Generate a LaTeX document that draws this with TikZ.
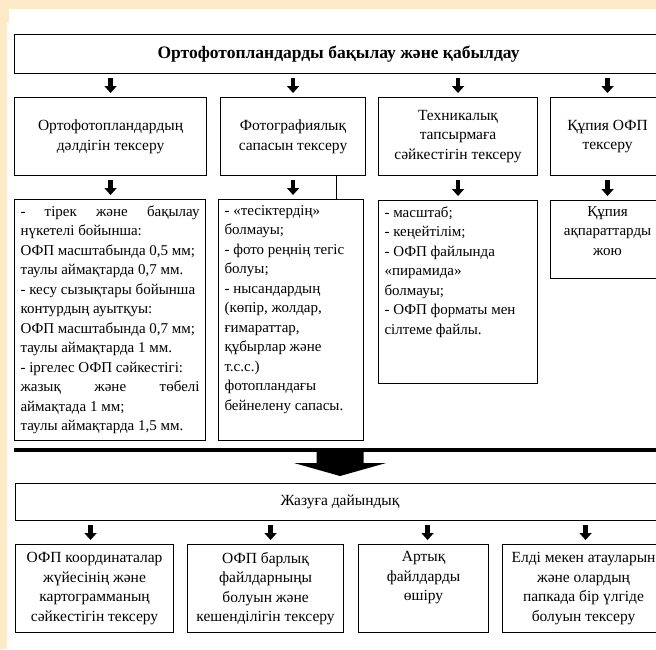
\documentclass[tikz,border=0pt]{standalone}
\usepackage{fontspec}
\setmainfont{Liberation Serif}
\usetikzlibrary{arrows.meta,calc}
\definecolor{paper}{RGB}{253,235,200}
\newcommand{\toptext}[3]{\parbox[t][#1][t]{#2}{#3}}
\newcommand{\spreadline}[1]{\makebox[\linewidth][s]{#1}}
\tikzset{
  box/.style={draw, line width=1.1pt, anchor=north west, inner sep=0pt, align=center,
    font=\fontsize{15.5}{19.5}\selectfont},
  detail/.style={box, inner xsep=6pt, inner ysep=6pt, align=left,
    font=\fontsize{15}{19.5}\selectfont},
  pointer/.style={line width=4.5pt, -{Triangle[width=12pt,length=7pt]}, shorten <=4pt, shorten >=4pt},
}

\begin{document}
\begin{tikzpicture}[x=1pt,y=-1pt]
    % Page and background
    \useasboundingbox (0,0) rectangle (656,649);
    \clip (0,0) rectangle (656,649);
    \fill[paper] (0,0) rectangle (656,649);
    \fill[white] (9,9) rectangle (656,649);
    \fill[white] (7,23) rectangle (9,649);

    % Title
    \node[box, minimum width=648pt, minimum height=39pt, font=\fontsize{17.5}{20}\selectfont\bfseries] (head) at (14,34) {Ортофотопландарды бақылау және қабылдау};

    % Checks
    \node[box, minimum width=192pt, minimum height=78pt] (acc) at (14,97) {Ортофотопландардың\\дәлдігін тексеру};
    \node[box, minimum width=145pt, minimum height=78pt] (photo) at (220,97) {Фотографиялық\\сапасын тексеру};
    \node[box, minimum width=159pt, minimum height=78pt] (tech) at (378,97) {Техникалық\\тапсырмаға\\сәйкестігін тексеру};
    \node[box, minimum width=114pt, minimum height=78pt] (secret) at (550,97) {Құпия ОФП\\тексеру};

    % Details of the checks
    \node[detail] (accd) at (14,199) {\toptext{229pt}{179pt}{%
      \spreadline{- тірек және бақылау}\\
      нүкетелі бойынша:\\
      ОФП масштабында 0,5 мм;\\
      таулы аймақтарда 0,7 мм.\\
      - кесу сызықтары бойынша\\
      контурдың ауытқуы:\\
      ОФП масштабында 0,7 мм;\\
      таулы аймақтарда 1 мм.\\
      - іргелес ОФП сәйкестігі:\\
      \spreadline{жазық және төбелі}\\
      аймақтада 1 мм;\\
      таулы аймақтарда 1,5 мм.}};
    \node[detail] (photod) at (218,199) {\toptext{229pt}{133pt}{%
      - «тесіктердің»\\
      болмауы;\\
      - фото реңнің тегіс\\
      болуы;\\
      - нысандардың\\
      (көпір, жолдар,\\
      ғимараттар,\\
      құбырлар және\\
      т.с.с.)\\
      фотопландағы\\
      бейнелену сапасы.}};
    \node[detail] (techd) at (378,200) {\toptext{171pt}{147pt}{%
      - масштаб;\\
      - кеңейтілім;\\
      - ОФП файлында\\
      «пирамида»\\
      болмауы;\\
      - ОФП форматы мен\\
      сілтеме файлы.}};
    \node[detail] (secretd) at (550,200) {\toptext{66pt}{102pt}{\centering
      Құпия\\
      ақпараттарды\\
      жою}};

    % Arrows between the levels
    \foreach \b in {acc,photo,tech,secret}
      \draw[pointer] (\b.north |- head.south) -- (\b.north);
    \foreach \a/\b in {acc/accd,photo/photod,tech/techd,secret/secretd}
      \draw[pointer] (\a.south) -- (\a.south |- \b.north);
    \draw[line width=0.6pt] ([xshift=-30pt]photo.south east) -- ([xshift=-30pt]photo.south east |- photod.north);

    % Preparation
    \node[box, minimum width=649pt, minimum height=37pt] (prep) at (15,483) {Жазуға дайындық};

    % Divider and the big arrow
    \coordinate (barl) at (14,450);
    \coordinate (barr) at (670,450);
    \draw[line width=3.5pt] (barl) -- (barr);
    \coordinate (tip) at ($(prep.north)+(0,-7)$);
    \fill (tip) -- ++(46,-13) -- ++(-22.5,0) -- ++(0,-11) -- ++(-47,0) -- ++(0,11) -- ++(-22.5,0) -- cycle;

    % Final checks
    \node[box, minimum width=158pt, minimum height=88pt] (coord) at (15,544) {ОФП координаталар\\жүйесінің және\\картограмманың\\сәйкестігін тексеру};
    \node[box, minimum width=156pt, minimum height=88pt] (files) at (187,544) {ОФП барлық\\файлдарныңы\\болуын және\\кешенділігін тексеру};
    \node[box, minimum width=130pt, minimum height=88pt] (extra) at (358,544) {Артық\\файлдарды\\өшіру\\\strut};
    \node[box, minimum width=162pt, minimum height=88pt] (names) at (502,544) {Елді мекен атауларын\\және олардың\\папкада бір үлгіде\\болуын тексеру};

    \draw[pointer] ([xshift=-4pt]coord.north |- prep.south) -- ([xshift=-4pt]coord.north);
    \draw[pointer] ([xshift=5pt]files.north |- prep.south) -- ([xshift=5pt]files.north);
    \draw[pointer] ([xshift=4pt]extra.north |- prep.south) -- ([xshift=4pt]extra.north);
    \draw[pointer] ([xshift=2pt]names.north |- prep.south) -- ([xshift=2pt]names.north);
\end{tikzpicture}
\end{document}
